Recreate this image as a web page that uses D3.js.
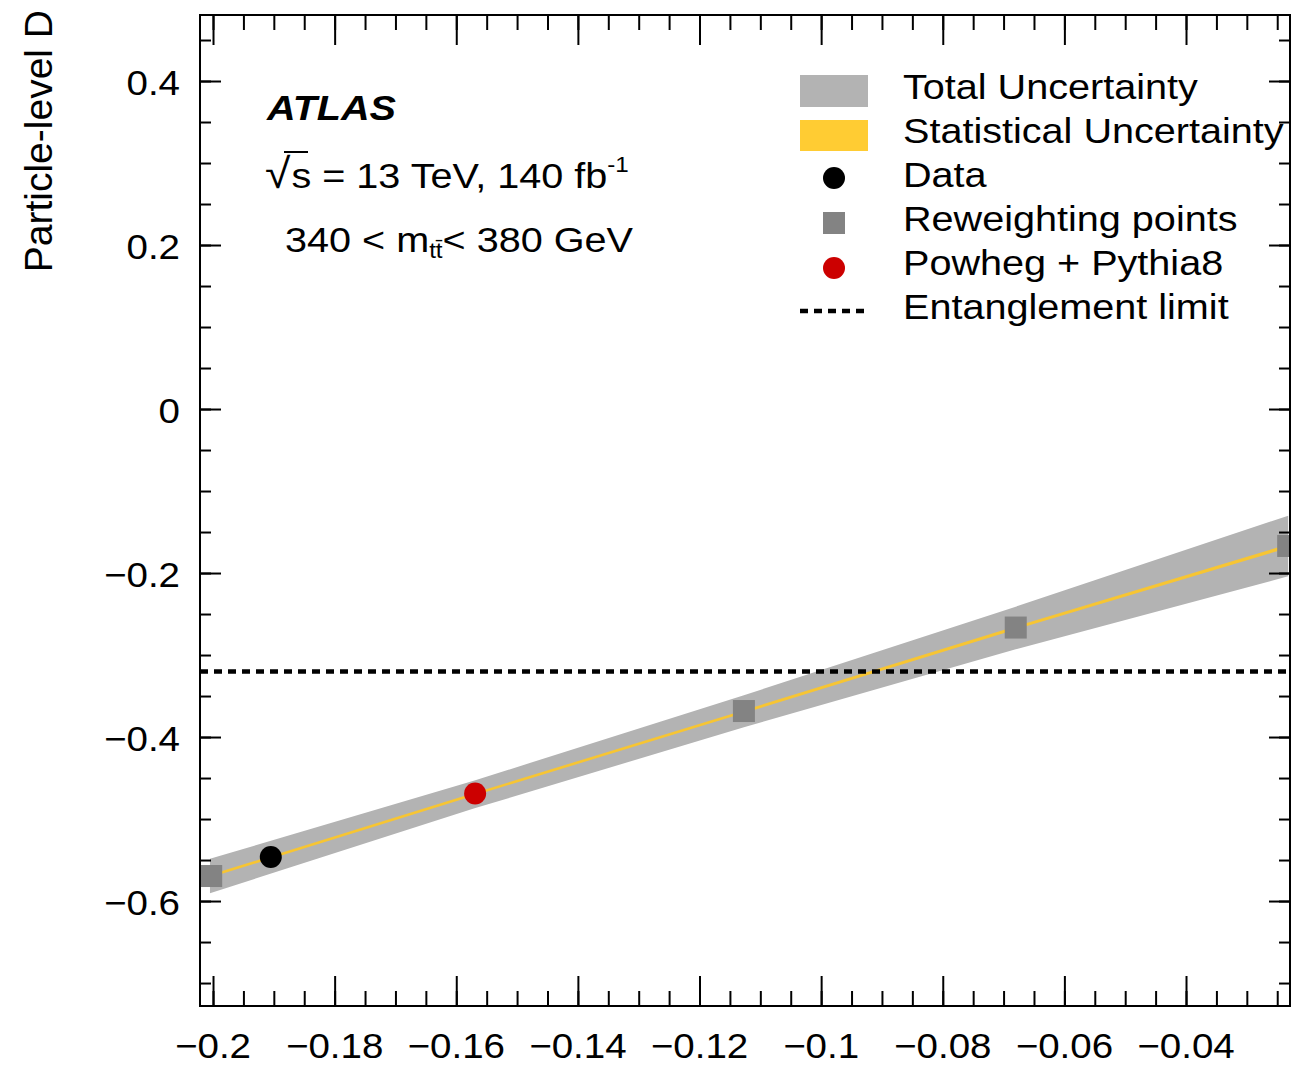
<!DOCTYPE html>
<html>
<head>
<meta charset="utf-8">
<script src="https://cdn.jsdelivr.net/npm/d3@7"></script>
<style>
  body { margin: 0; background: #fff; }
  text { font-family: "Liberation Sans", Arial, Helvetica, sans-serif; fill: #000; }
</style>
</head>
<body>
<svg id="chart" width="1309" height="1065"></svg>
<script>
// ---- data ----
const reweightX = [-0.2003, -0.1127, -0.0680, -0.0232];
const reweightY = [-0.5695, -0.3683, -0.2665, -0.1670];

const dataX = [-0.1905];
const dataY = [-0.5463];

const powhegX = [-0.1569];
const powhegY = [-0.4689];

// total uncertainty band (edges) and statistical band
const bandX    = [-0.2005, -0.1570, -0.1127, -0.0680, -0.0232];
const bandHigh = [-0.5485, -0.4530, -0.3490, -0.2410, -0.1300];
const bandLow  = [-0.5905, -0.4870, -0.3880, -0.2930, -0.2040];
const statHigh = [-0.5680, -0.4680, -0.3672, -0.2650, -0.1650];
const statLow  = [-0.5714, -0.4712, -0.3708, -0.2688, -0.1694];

const entanglementLimit = -0.32;

const xTicks = [-0.2, -0.18, -0.16, -0.14, -0.12, -0.1, -0.08, -0.06, -0.04];
const xTickLabels = ["\u22120.2", "\u22120.18", "\u22120.16", "\u22120.14", "\u22120.12", "\u22120.1", "\u22120.08", "\u22120.06", "\u22120.04"];
const yTicks = [-0.6, -0.4, -0.2, 0, 0.2, 0.4];
const yTickLabels = ["\u22120.6", "\u22120.4", "\u22120.2", "0", "0.2", "0.4"];

const legendLabels = ["Total Uncertainty", "Statistical Uncertainty", "Data", "Reweighting points", "Powheg + Pythia8", "Entanglement limit"];

// ---- layout ----
const L = 200, R = 1290, T = 15, B = 1006;
const svg = d3.select('#chart');

let x = d3.scaleLinear().domain([-0.20214, -0.0229]).range([L, R]);
let y = d3.scaleLinear().domain([-0.728, 0.4805]).range([B, T]);

const xMinor = d3.range(-40, -4).map(i => +(i * 0.005).toFixed(3));
const yMinor = d3.range(-14, 10).map(i => +(i * 0.05).toFixed(2));

svg.append('defs').append('clipPath').attr('id', 'plotclip')
  .append('rect').attr('x', L).attr('y', T).attr('width', R - L).attr('height', B - T);

const plot = svg.append('g').attr('clip-path', 'url(#plotclip)');

// total uncertainty
let bandData = bandX.map((v, i) => ({x: v, lo: bandLow[i], hi: bandHigh[i]}));
plot.append('path')
  .datum(bandData)
  .attr('fill', '#b3b3b3')
  .attr('d', d3.area().x(d => x(d.x)).y0(d => y(d.lo)).y1(d => y(d.hi)));

// statistical uncertainty
let statData = bandX.map((v, i) => ({x: v, lo: statLow[i], hi: statHigh[i]}));
plot.append('path')
  .datum(statData)
  .attr('fill', '#f7c533')
  .attr('d', d3.area().x(d => x(d.x)).y0(d => y(d.lo)).y1(d => y(d.hi)));

// entanglement limit
plot.append('line')
  .attr('x1', L).attr('x2', R)
  .attr('y1', y(entanglementLimit)).attr('y2', y(entanglementLimit))
  .attr('stroke', '#000').attr('stroke-width', 4.5)
  .attr('stroke-dasharray', '8,6');

// reweighting points
const sq = 22;
plot.selectAll('rect.rw')
  .data(reweightX.map((v, i) => [v, reweightY[i]]))
  .enter().append('rect')
  .attr('class', 'rw')
  .attr('x', d => x(d[0]) - sq / 2).attr('y', d => y(d[1]) - sq / 2)
  .attr('width', sq).attr('height', sq)
  .attr('fill', '#838383');

// powheg
plot.selectAll('circle.pw')
  .data(powhegX.map((v, i) => [v, powhegY[i]]))
  .enter().append('circle')
  .attr('class', 'pw')
  .attr('cx', d => x(d[0])).attr('cy', d => y(d[1])).attr('r', 11)
  .attr('fill', '#cc0000');

// data
plot.selectAll('circle.dt')
  .data(dataX.map((v, i) => [v, dataY[i]]))
  .enter().append('circle')
  .attr('class', 'dt')
  .attr('cx', d => x(d[0])).attr('cy', d => y(d[1])).attr('r', 11)
  .attr('fill', '#000');

// ---- axes (ticks on all four sides, pointing inward) ----
function tickAxis(axis, tr) {
  let g = svg.append('g').attr('transform', tr).call(axis);
  g.select('.domain').remove();
  g.selectAll('line').attr('stroke', '#000').attr('stroke-width', 2);
  g.selectAll('text').remove();
  return g;
}
tickAxis(d3.axisBottom(x).tickValues(xMinor).tickSize(-15), `translate(0,${B})`);
tickAxis(d3.axisBottom(x).tickValues(xTicks).tickSize(-30), `translate(0,${B})`);
tickAxis(d3.axisTop(x).tickValues(xMinor).tickSize(-15), `translate(0,${T})`);
tickAxis(d3.axisTop(x).tickValues(xTicks).tickSize(-30), `translate(0,${T})`);
tickAxis(d3.axisLeft(y).tickValues(yMinor).tickSize(-11), `translate(${L},0)`);
tickAxis(d3.axisLeft(y).tickValues(yTicks).tickSize(-21), `translate(${L},0)`);
tickAxis(d3.axisRight(y).tickValues(yMinor).tickSize(-11), `translate(${R},0)`);
tickAxis(d3.axisRight(y).tickValues(yTicks).tickSize(-21), `translate(${R},0)`);

svg.append('rect')
  .attr('x', L).attr('y', T).attr('width', R - L).attr('height', B - T)
  .attr('fill', 'none').attr('stroke', '#000').attr('stroke-width', 2);

// text helper: the reference font is slightly wide
function txt(px, py, s, size, anchor) {
  return svg.append('text')
    .attr('transform', `translate(${px},${py}) scale(1.1,1)`)
    .attr('text-anchor', anchor || 'start')
    .style('font-size', (size || 36) + 'px')
    .text(s);
}

xTicks.forEach((v, i) => txt(x(v), 1058, xTickLabels[i], 35, 'middle'));
yTicks.forEach((v, i) => txt(180, y(v) + 14, yTickLabels[i], 35, 'end'));

svg.append('text')
  .attr('transform', 'translate(52,10) rotate(-90)')
  .attr('text-anchor', 'end')
  .style('font-size', '39px')
  .text('Particle-level D');

// ---- labels ----
txt(267, 120, 'ATLAS', 36).style('font-weight', 'bold').style('font-style', 'italic');

let t1 = txt(265, 188, '', 36);
t1.append('tspan').style('font-size', '42px').text('\u221A');
t1.append('tspan').attr('dx', 1).text('s = 13 TeV, 140 fb');
t1.append('tspan').attr('dy', -16).style('font-size', '22px').text('-1');
svg.append('line').attr('x1', 284).attr('x2', 308).attr('y1', 152).attr('y2', 152)
  .attr('stroke', '#000').attr('stroke-width', 2);

let t2 = txt(285, 252, '', 36);
t2.append('tspan').text('340 < m');
t2.append('tspan').attr('dy', 6).style('font-size', '22px').text('tt\u0304');
t2.append('tspan').attr('dy', -6).text('< 380 GeV');

// ---- legend ----
const lg = svg.append('g');
const rowY = legendLabels.map((d, i) => 99 + 44 * i);
lg.append('rect').attr('x', 800).attr('y', 75).attr('width', 68).attr('height', 32).attr('fill', '#b3b3b3');
lg.append('rect').attr('x', 800).attr('y', 120).attr('width', 68).attr('height', 31).attr('fill', '#ffcc33');
lg.append('circle').attr('cx', 834).attr('cy', 178).attr('r', 11).attr('fill', '#000');
lg.append('rect').attr('x', 823).attr('y', 212).attr('width', 22).attr('height', 22).attr('fill', '#838383');
lg.append('circle').attr('cx', 834).attr('cy', 268).attr('r', 11).attr('fill', '#cc0000');
lg.append('line').attr('x1', 800).attr('x2', 868).attr('y1', 311).attr('y2', 311)
  .attr('stroke', '#000').attr('stroke-width', 4.5).attr('stroke-dasharray', '8,6');
legendLabels.forEach((s, i) => txt(903, rowY[i], s, 36));
</script>
</body>
</html>
